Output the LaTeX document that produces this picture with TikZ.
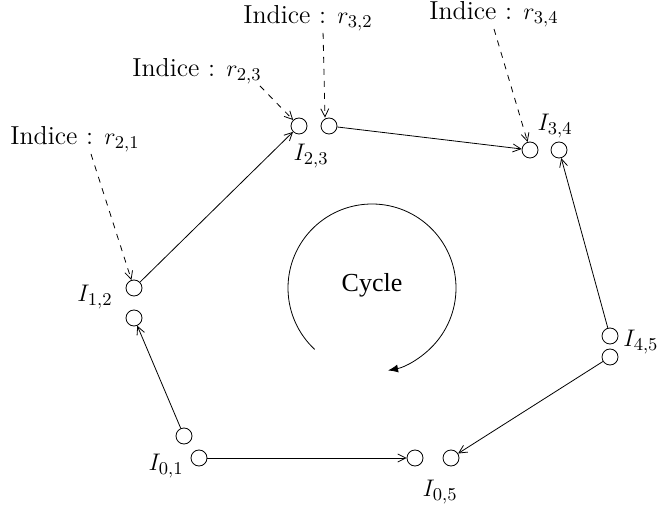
\documentclass[tikz,border=0pt]{standalone}
\usepackage{fontspec}
\usepackage{amsmath}
\usepackage{tikz}
\usetikzlibrary{arrows.meta,positioning}
\newfontfamily\cycleFont{Liberation Serif}
\tikzset{
  ringPort/.style={draw, circle, minimum size=8pt, inner sep=0pt},
  ringArrow/.style={-{Straight Barb[length=4pt,width=4pt]}, thin},
  ringIndexArrow/.style={-{Straight Barb[length=4pt,width=4pt]}, thin, dashed}
}

\begin{document}
\begin{tikzpicture}[
        x=0.5pt, y=0.5pt,
        portname/.style={font=\fontsize{13}{15}\selectfont, inner sep=1pt},
        indexname/.style={font=\fontsize{13}{15}\selectfont, inner sep=1pt}
      ]
      \useasboundingbox (0,0) rectangle (658,514);

      \node[ringPort] (p01a) at (184,78) {};
      \node[ringPort] (p01b) at (199,56) {};
      \node[ringPort] (p12a) at (134,226) {};
      \node[ringPort] (p12b) at (134,196) {};
      \node[ringPort] (p23a) at (299,388) {};
      \node[ringPort] (p23b) at (329,388) {};
      \node[ringPort] (p34a) at (530,364) {};
      \node[ringPort] (p34b) at (559,364) {};
      \node[ringPort] (p45a) at (610,178) {};
      \node[ringPort] (p45b) at (610,157) {};
      \node[ringPort] (p05a) at (415,56) {};
      \node[ringPort] (p05b) at (451,56) {};

      \node[portname] (n01) at (166,48) {$I_{0,1}$};
      \node[portname] (n12) at (95,217) {$I_{1,2}$};
      \node[portname] (n23) at (311,358) {$I_{2,3}$};
      \node[portname] (n34) at (555,388) {$I_{3,4}$};
      \node[portname, anchor=west] (n45) at (621,172) {$I_{4,5}$};
      \node[portname] (n05) at (440,22) {$I_{0,5}$};

      \draw[ringArrow] (p01b) -- (p05a);
      \draw[ringArrow] (p01a) -- (p12b);
      \draw[ringArrow] (p12a) -- (p23a);
      \draw[ringArrow] (p23b) -- (p34a);
      \draw[ringArrow] (p45a) -- (p34b);
      \draw[ringArrow] (p45b) -- (p05b);

      % indices
      \node[indexname] (r21) at (75,375) {Indice : $r_{2,1}$};
      \node[indexname] (r23) at (197,443) {Indice : $r_{2,3}$};
      \node[indexname] (r32) at (308,496) {Indice : $r_{3,2}$};
      \node[indexname] (r34) at (494,500) {Indice : $r_{3,4}$};
      \draw[ringIndexArrow] ([xshift=8pt]r21.south) -- (p12a);
      \draw[ringIndexArrow] ([xshift=-2pt]r23.south east) -- (p23a);
      \draw[ringIndexArrow] (r32.south -| p23b.north west) -- ([xshift=-2pt]p23b.north);
      \draw[ringIndexArrow] (r34.south) -- (p34a);

      % cycle
      \coordinate (cycleCenter) at (372,226);
      \node[font=\cycleFont\fontsize{13}{15}\selectfont] (cycleText) at (372,229) {Cycle};
      \draw[-{Latex[length=5pt,width=4pt]}] (cycleCenter) ++(227:42pt) arc[start angle=227, end angle=-79, radius=42pt];
    \end{tikzpicture}
\end{document}
